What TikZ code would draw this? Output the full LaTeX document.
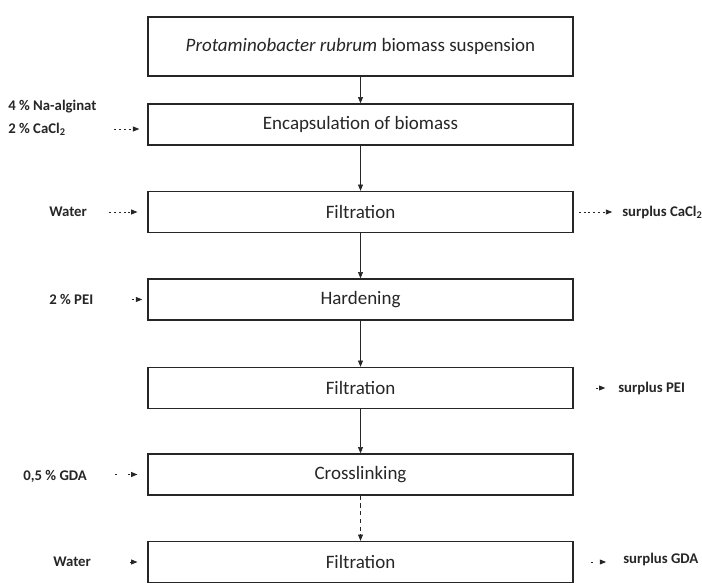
\documentclass[tikz,border=0pt]{standalone}
\usepackage{fontspec}
\setmainfont{Carlito}
\usetikzlibrary{arrows.meta}
\definecolor{ink}{HTML}{262626}

\tikzset{
  stage/.style={draw=ink, line width=0.9pt, minimum width=10.625cm, minimum height=1.025cm,
    text=ink, font=\fontsize{13.5}{16}\selectfont},
  side/.style={text=ink, inner sep=0pt, font=\fontsize{10.5}{12}\selectfont\bfseries},
  flow/.style={draw=ink, line width=0.5pt, -{Triangle[length=4.5pt,width=3.5pt]}},
  feed/.style={draw=ink, line width=0.6pt, dash pattern=on 1.4pt off 2pt,
    -{Triangle[length=4.5pt,width=3.5pt]}},
}

\begin{document}
\begin{tikzpicture}[x=0.025cm,y=-0.025cm]
\useasboundingbox (0,0) rectangle (702,583);

% process steps
\node[stage, minimum height=1.475cm] (bio) at (360.5,46.5) {\textit{Protaminobacter rubrum} biomass suspension};
\node[stage] (enc) at (360.5,124.5) {Encapsulation of biomass};
\node[stage] (filtA) at (360.5,212) {Filtration};
\node[stage] (hard) at (360.5,299.5) {Hardening};
\node[stage] (filtB) at (360.5,388) {Filtration};
\node[stage] (cross) at (360.5,474.5) {Crosslinking};
\node[stage] (filtC) at (360.5,562) {Filtration};

\draw[flow] (bio) -- (enc);
\draw[flow] (enc) -- (filtA);
\draw[flow] (filtA) -- (hard);
\draw[flow] (hard) -- (filtB);
\draw[flow] (filtB) -- (cross);
\draw[flow, dash pattern=on 3pt off 2.5pt] (cross) -- (filtC);

% inputs
\node[side, anchor=west] (alg) at (8,107) {4 \% Na-alginat};
\node[side, anchor=west] (cacl) at (8,129) {2 \% CaCl\textsubscript{2}};
\node[side, anchor=west] (waterA) at (49,212) {Water};
\node[side, anchor=west] (pei) at (49,299.5) {2 \% PEI};
\node[side, anchor=west] (gda) at (23,476) {0,5 \% GDA};
\node[side, anchor=west] (waterB) at (53,562) {Water};

\draw[feed] ([xshift=-23.5pt]cacl.east -| enc.west) -- ([xshift=-5.7pt]cacl.east -| enc.west);
\draw[feed] ([xshift=-27pt]enc.west |- waterA.east) -- ([xshift=-7pt]filtA.west);
\draw[feed] ([xshift=-10.7pt]hard.west) -- ([xshift=-3.6pt]hard.west);
\draw[feed, dash pattern=on 1.4pt off 8pt] ([xshift=-22.8pt]cross.west) -- ([xshift=-7pt]cross.west);
\draw[feed] ([xshift=-12pt]filtC.west) -- ([xshift=-7pt]filtC.west);

% outputs
\node[side, anchor=west] (outA) at (622,212) {surplus CaCl\textsubscript{2}};
\node[side, anchor=west] (outB) at (618,388) {surplus PEI};
\node[side, anchor=west] (outC) at (623,559) {surplus GDA};

\draw[feed, shorten <=3.6pt, shorten >=7pt] (filtA.east) -- (outA.west);
\draw[feed, shorten <=15.6pt, shorten >=9pt] (filtB.east) -- (outB.west);
\draw[feed, dash pattern=on 1.4pt off 8pt, shorten <=12pt, shorten >=12pt] (filtC.east) -- (filtC.east -| outC.west);
\end{tikzpicture}
\end{document}
